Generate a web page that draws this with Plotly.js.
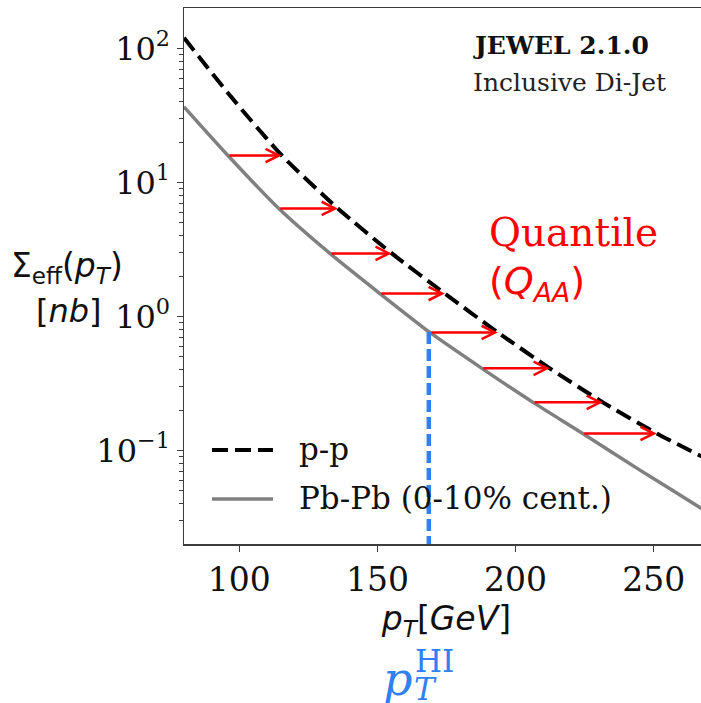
<!DOCTYPE html>
<html><head><meta charset="utf-8">
<script src="https://cdn.plot.ly/plotly-3.0.1.min.js"></script>
<style>html,body{margin:0;padding:0;overflow:hidden;background:#fff}#chart{width:710px;height:703px}</style>
</head><body><div id="chart"></div>
<script>
// p-p reference spectrum (dashed)
const ppPt    = [80, 97, 115.4, 135.7, 155.2, 174.4, 193.6, 212.4, 231.6, 251.1, 266.7, 270];
const ppSigma = [119.8, 43.6, 15.86, 6.38, 2.95, 1.48, 0.758, 0.409, 0.228, 0.1337, 0.0916, 0.0845];
// Pb-Pb 0-10% spectrum (solid gray)
const pbPt    = [80, 95.9, 114.3, 132.8, 150.9, 169.0, 187.8, 206.3, 224.3, 245, 266.7, 270];
const pbSigma = [36.6, 15.86, 6.38, 2.95, 1.48, 0.758, 0.409, 0.228, 0.1337, 0.0712, 0.0375, 0.034];
// quantile arrows: Pb-Pb pT -> p-p pT at equal effective cross section
const qPbPt  = [95.9, 114.3, 132.8, 150.9, 169.0, 187.8, 206.3, 224.3];
const qPpPt  = [115.4, 135.7, 155.2, 174.4, 193.6, 212.4, 231.6, 251.1];
const qSigma = [15.86, 6.38, 2.95, 1.48, 0.758, 0.409, 0.228, 0.1337];
// highlighted pT^HI marker
const hiPt = [168.6, 168.6];
const hiSigma = [0.765, 0.02];
// axes
const xRange = [80, 270];
const yRange = [0.02, 200];
const xTickVals = [100, 150, 200, 250];
const yTickVals = [0.1, 1, 10, 100];
const yTickText = ['10<sup>\u22121</sup>', '10<sup>0</sup>', '10<sup>1</sup>', '10<sup>2</sup>'];
const yMinorVals = [0.03,0.04,0.05,0.06,0.07,0.08,0.09,0.2,0.3,0.4,0.5,0.6,0.7,0.8,0.9,2,3,4,5,6,7,8,9,20,30,40,50,60,70,80,90];
const legendNames = ['p-p', 'Pb-Pb (0-10% cent.)'];

const axisColor = '#3c3c3c';
const traces = [
  {x: ppPt, y: ppSigma, mode: 'lines', name: legendNames[0], line: {color: '#000', width: 4, dash: '16px,7px', shape: 'spline', smoothing: 0.6}, showlegend: false},
  {x: pbPt, y: pbSigma, mode: 'lines', name: legendNames[1], line: {color: '#808080', width: 3.5, shape: 'spline', smoothing: 0.6}, showlegend: false},
  {x: hiPt, y: hiSigma, mode: 'lines', line: {color: '#2f7ff5', width: 4.5, dash: '12px,5px'}, showlegend: false}
];

const ann = [];
for (let i = 0; i < qSigma.length; i++) {
  ann.push({x: qPpPt[i], y: Math.log10(qSigma[i]), ax: qPbPt[i], ay: Math.log10(qSigma[i]),
    xref: 'x', yref: 'y', axref: 'x', ayref: 'y', text: '', showarrow: true,
    arrowhead: 5, arrowsize: 1.05, arrowwidth: 2.5, arrowcolor: '#ff0000', standoff: 0});
}
const P = (px) => (px - 184) / 525;
const Q = (py) => (544 - py) / 536;
const txt = (text, x, y, size, family, color, xanchor) => ({text, x, y, xref: 'paper', yref: 'paper', showarrow: false,
  xanchor: xanchor || 'left', yanchor: 'middle', font: {family, size, color: color || '#000'}});
ann.push(txt('<b>JEWEL 2.1.0</b>', P(471), Q(45), 25, 'DejaVu Serif', '#111'));
ann.push(txt('Inclusive Di-Jet', P(471), Q(82), 25, 'DejaVu Serif', '#222'));
ann.push(txt('Quantile', P(487), Q(232), 39, 'DejaVu Serif', '#ff0000'));
ann.push(txt('(<i>Q</i><sub><i>AA</i></sub>)', P(487), Q(283), 38, 'DejaVu Sans', '#ff0000'));
ann.push(txt(legendNames[0], P(297), Q(449), 31, 'DejaVu Serif', '#111'));
ann.push(txt(legendNames[1], P(297), Q(498), 31, 'DejaVu Serif', '#111'));
ann.push(txt('\u03a3<sub>eff</sub>(<i>p</i><sub><i>T</i></sub>)', P(67), Q(267), 33, 'DejaVu Sans', '#111', 'center'));
ann.push(txt('[<i>nb</i>]', P(69), Q(311), 32, 'DejaVu Sans', '#111', 'center'));
ann.push(txt('<i>p</i>', P(381), Q(679), 46, 'DejaVu Serif', '#2f7ff5'));
ann.push(txt('<i>T</i>', P(412), Q(689), 31, 'DejaVu Serif', '#2f7ff5'));
ann.push(txt('HI', P(413), Q(661), 31, 'DejaVu Serif', '#2f7ff5'));

const shapes = [
  {type: 'line', xref: 'paper', yref: 'paper', x0: P(212), x1: P(273), y0: Q(450), y1: Q(450), line: {color: '#000', width: 4, dash: '16px,7px'}},
  {type: 'line', xref: 'paper', yref: 'paper', x0: P(212), x1: P(273), y0: Q(499), y1: Q(499), line: {color: '#808080', width: 3.5}}
];

const layout = {
  width: 710, height: 703,
  margin: {l: 184, r: 1, t: 8, b: 159, pad: 0},
  paper_bgcolor: '#fff', plot_bgcolor: '#fff',
  showlegend: false,
  xaxis: {range: xRange, tickmode: 'array', tickvals: xTickVals, ticks: 'outside', ticklen: 6, tickwidth: 1.3, tickcolor: axisColor,
    showline: true, linecolor: axisColor, linewidth: 1.5, mirror: true, showgrid: false, zeroline: false,
    tickfont: {family: 'DejaVu Serif', size: 33, color: '#111'},
    title: {text: '<i>p</i><sub><i>T</i></sub>[<i>GeV</i>]', font: {family: 'DejaVu Sans', size: 33, color: '#111'}, standoff: 4}},
  yaxis: {type: 'log', range: [Math.log10(yRange[0]), Math.log10(yRange[1])], tickmode: 'array', tickvals: yTickVals, ticktext: yTickText,
    ticks: 'outside', ticklen: 6, tickwidth: 1.3, tickcolor: axisColor,
    minor: {tickmode: 'array', tickvals: yMinorVals, ticks: 'outside', ticklen: 3.5, tickwidth: 1, tickcolor: axisColor, showgrid: false},
    showline: true, linecolor: axisColor, linewidth: 1.5, mirror: true, showgrid: false, zeroline: false,
    tickfont: {family: 'DejaVu Serif', size: 32, color: '#111'}},
  annotations: ann,
  shapes: shapes
};
Plotly.newPlot('chart', traces, layout, {displayModeBar: false, staticPlot: true});
</script>
</body></html>
